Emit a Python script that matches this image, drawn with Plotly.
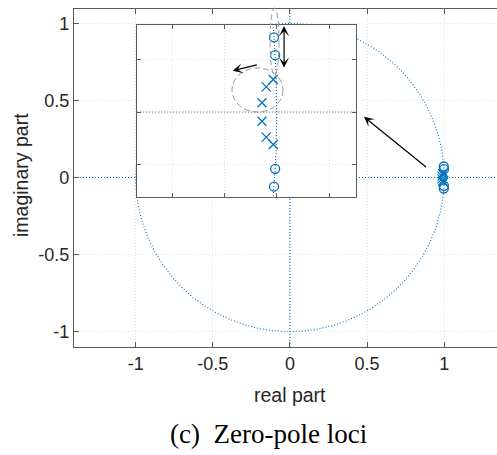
import numpy as np
import plotly.graph_objects as go

# ---------------- data ----------------
zeros_re = [0.9974, 0.9985, 0.9985, 0.9974]
zeros_im = [0.0714, 0.0543, -0.0543, -0.0714]
poles_re = [0.9967, 0.9900, 0.9859, 0.9859, 0.9900, 0.9967]
poles_im = [0.0310, 0.0240, 0.0089, -0.0089, -0.0240, -0.0310]

x_tickvals = [-1, -0.5, 0, 0.5, 1]
x_ticktext = ["-1", "-0.5", "0", "0.5", "1"]
y_tickvals = [-1, -0.5, 0, 0.5, 1]
y_ticktext = ["-1", "-0.5", "0", "0.5", "1"]
inset_x_ticks = [0.9, 0.95, 1.0, 1.05]
inset_y_ticks = [-0.05, 0.0, 0.05]

x_range = [-1.4, 1.3424]
y_range = [-1.1, 1.0935]
inset_x_range = [0.8667, 1.0755]
inset_y_range = [-0.0810, 0.0832]

x_label = "real part"
y_label = "imaginary part"
caption = "(c)\u2002Zero-pole loci"

# ---------------- style ----------------
BLUE = "#0072BD"
AXC = "#5a5a5a"
GRID = "#e2e2e2"
TXT = "#262626"
SANS = "Liberation Sans, Arial, sans-serif"
DOT = "1px,2px"

W, H = 497, 455
PLOT_L, PLOT_R, PLOT_T, PLOT_B = 74, 497, 9, 347  # pixels
ML, MR, MT, MB = PLOT_L, W - PLOT_R, PLOT_T, H - PLOT_B
PW = PLOT_R - PLOT_L
PH = PLOT_B - PLOT_T


def px(xp):
    return (xp - PLOT_L) / PW


def py(yp):
    return (PLOT_B - yp) / PH


inset_xdom = [px(137.3), px(355.7)]
inset_ydom = [py(196.7), py(25)]

theta = np.linspace(0, 2 * np.pi, 2881)
circ_x = np.cos(theta)
circ_y = np.sin(theta)

fig = go.Figure()


def add_set(xa, ya, xr, yr):
    fig.add_trace(go.Scatter(x=circ_x, y=circ_y, mode="lines", xaxis=xa, yaxis=ya,
                             line=dict(color=BLUE, width=1.1, dash=DOT), hoverinfo="skip"))
    fig.add_trace(go.Scatter(x=xr, y=[0, 0], mode="lines", xaxis=xa, yaxis=ya,
                             line=dict(color=BLUE, width=1.1, dash=DOT), hoverinfo="skip"))
    fig.add_trace(go.Scatter(x=[0, 0], y=yr, mode="lines", xaxis=xa, yaxis=ya,
                             line=dict(color=BLUE, width=1.1, dash=DOT), hoverinfo="skip"))
    fig.add_trace(go.Scatter(x=zeros_re, y=zeros_im, mode="markers", xaxis=xa, yaxis=ya,
                             marker=dict(symbol="circle-open", size=9, color=BLUE,
                                         line=dict(width=1.3, color=BLUE))))
    fig.add_trace(go.Scatter(x=poles_re, y=poles_im, mode="markers", xaxis=xa, yaxis=ya,
                             marker=dict(symbol="x-thin-open", size=9, color=BLUE,
                                         line=dict(width=1.3, color=BLUE))))


add_set("x", "y", x_range, y_range)
add_set("x2", "y2", inset_x_range, inset_y_range)

common = dict(showgrid=True, gridcolor=GRID, griddash="1px,2px", gridwidth=1,
              zeroline=False, ticks="inside", tickcolor=AXC, showline=True,
              linecolor=AXC, automargin=False)

fig.update_layout(
    template="none",
    width=W, height=H,
    margin=dict(l=ML, r=MR, t=MT, b=MB, pad=0),
    plot_bgcolor="white", paper_bgcolor="white",
    showlegend=False,
    xaxis=dict(domain=[0, 1], range=x_range, tickvals=x_tickvals, ticktext=x_ticktext,
               ticklen=5, linewidth=1.2, mirror="ticks",
               tickfont=dict(family=SANS, size=18, color=TXT), **common),
    yaxis=dict(domain=[0, 1], range=y_range, tickvals=y_tickvals, ticktext=y_ticktext,
               ticklen=5, linewidth=1.2, mirror=False,
               tickfont=dict(family=SANS, size=18, color=TXT), **common),
    xaxis2=dict(domain=inset_xdom, anchor="y2", range=inset_x_range, tickvals=inset_x_ticks,
                showticklabels=False, ticklen=4, linewidth=1.3, mirror="ticks", **common),
    yaxis2=dict(domain=inset_ydom, anchor="x2", range=inset_y_range, tickvals=inset_y_ticks,
                showticklabels=False, ticklen=4, linewidth=1.3, mirror="ticks", **common),
)


def ix2p(v):
    return inset_xdom[0] + (v - inset_x_range[0]) / (inset_x_range[1] - inset_x_range[0]) * (inset_xdom[1] - inset_xdom[0])


def iy2p(v):
    return inset_ydom[0] + (v - inset_y_range[0]) / (inset_y_range[1] - inset_y_range[0]) * (inset_ydom[1] - inset_ydom[0])


# dashed ellipses
fig.add_shape(type="circle", xref="paper", yref="paper",
              x0=ix2p(0.9936), x1=ix2p(1.0022), y0=iy2p(0.0354), y1=iy2p(0.0994),
              line=dict(color="#9a9a9a", width=1, dash="6px,3px"), layer="above")
fig.add_shape(type="circle", xref="x2", yref="y2",
              x0=0.9573, x1=1.0060, y0=0.0, y1=0.0421,
              line=dict(color="#9a9a9a", width=1, dash="6px,3px"), layer="above")

ann = []
# arrows
ann.append(dict(x=1.007, y=0.0822, ax=1.007, ay=0.0411, xref="x2", yref="y2", axref="x2", ayref="y2",
                text="", showarrow=True, arrowhead=3, startarrowhead=3, arrowside="end+start",
                arrowsize=1.4, startarrowsize=1.4, arrowwidth=1.2, arrowcolor="black"))
ann.append(dict(x=0.9579, y=0.0394, ax=0.9824, ay=0.0454, xref="x2", yref="y2", axref="x2", ayref="y2",
                text="", showarrow=True, arrowhead=3, arrowsize=1.4, arrowwidth=1.2, arrowcolor="black"))
ann.append(dict(x=0.480, y=0.394, ax=0.892, ay=0.060, xref="x", yref="y", axref="x", ayref="y",
                text="", showarrow=True, arrowhead=3, arrowsize=1.4, arrowwidth=1.2, arrowcolor="black"))
# titles
ann.append(dict(text=x_label, xref="paper", yref="paper", x=px(290), y=py(395),
                showarrow=False, xanchor="center", yanchor="middle",
                font=dict(family=SANS, size=19.5, color=TXT)))
ann.append(dict(text=y_label, xref="paper", yref="paper", x=px(21), y=py(175),
                showarrow=False, xanchor="center", yanchor="middle", textangle=-90,
                font=dict(family=SANS, size=19.5, color=TXT)))
ann.append(dict(text=caption, xref="paper", yref="paper", x=px(268), y=py(434),
                showarrow=False, xanchor="center", yanchor="middle",
                font=dict(family="Liberation Serif, Times New Roman, serif", size=27, color="black")))
fig.update_layout(annotations=ann)

# remove the default 8px page margin so the figure fills the window exactly
fig.write_html("out.html", config={"displayModeBar": False},
               post_script="document.body.style.margin='0';")
